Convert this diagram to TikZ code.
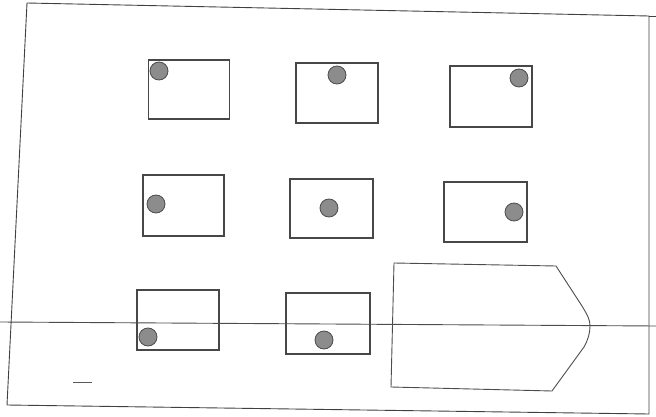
\documentclass[tikz,border=0pt]{standalone}
\begin{document}
\begin{tikzpicture}[x=1pt,y=-1pt,
  cell/.style={draw=black!72,line width=1.9pt,rectangle,inner sep=0pt,outer sep=0pt},
  dot/.style={circle,draw=black!70,line width=0.8pt,fill=black!45,minimum size=18pt,inner sep=0pt},
  frameline/.style={draw=black!75,line width=0.9pt},
  thinline/.style={draw=black!70,line width=0.9pt}]
\useasboundingbox (0,0) rectangle (656,417);
% outer frame
\coordinate (tl) at (27,3);
\coordinate (tr) at (649,16);
\coordinate (br) at (649,414);
\coordinate (bl) at (7,405);
\coordinate (trx) at (656,16);
\draw[frameline] (bl) -- (tl) -- (tr) -- (br) -- (bl);
\draw[frameline] (tr) -- (trx);
% boxes
\node[cell,minimum width=81pt,minimum height=59pt] (b1) at (189,89.5) {};
\node[cell,minimum width=82pt,minimum height=60pt] (b2) at (337,93) {};
\node[cell,minimum width=82pt,minimum height=61pt] (b3) at (491,96.5) {};
\node[cell,minimum width=81pt,minimum height=61pt] (b4) at (183.5,205.5) {};
\node[cell,minimum width=83pt,minimum height=59pt] (b5) at (331.5,208.5) {};
\node[cell,minimum width=83pt,minimum height=60pt] (b6) at (485.5,212) {};
\node[cell,minimum width=82pt,minimum height=60pt] (b7) at (178,320) {};
\node[cell,minimum width=84pt,minimum height=61pt] (b8) at (328,323.5) {};
% dots
\node[dot] (d1) at (159,71) {};
\node[dot] (d2) at (337,75) {};
\node[dot] (d3) at (519,78) {};
\node[dot] (d4) at (156,204) {};
\node[dot] (d5) at (329,208) {};
\node[dot] (d6) at (514,212) {};
\node[dot] (d7) at (148,337) {};
\node[dot] (d8) at (324,340) {};
% pentagon shape
\coordinate (p1) at (394,263);
\coordinate (p2) at (556,266);
\coordinate (p3) at (582,306);
\coordinate (p4) at (590,326);
\coordinate (p5) at (584,347);
\coordinate (p6) at (552,391);
\coordinate (p7) at (391,387);
\draw[thinline] (p1) -- (p2) -- (p3) .. controls (588,316) and (590,320) .. (p4)
  .. controls (590,333) and (588,340) .. (p5) -- (p6) -- (p7) -- cycle;
% horizontal line
\coordinate (hl) at (0,322);
\coordinate (hr) at (656,326);
\draw[thinline] (hl) -- (hr);
% small dash
\coordinate (s1) at (73,382);
\coordinate (s2) at (92,382);
\draw[draw=black!65,line width=1pt] (s1) -- (s2);
\end{tikzpicture}
\end{document}
